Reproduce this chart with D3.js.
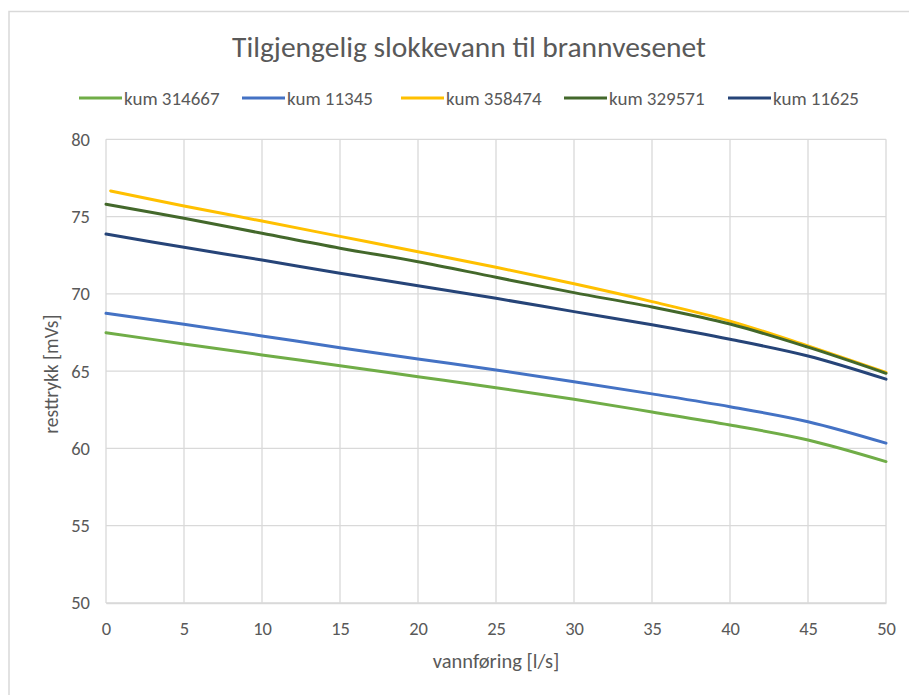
<!DOCTYPE html>
<html>
<head>
<meta charset="utf-8">
<script src="https://cdn.jsdelivr.net/npm/d3@7"></script>
<style>
  html, body { margin: 0; padding: 0; background: #ffffff; }
  svg { display: block; }
  text { font-family: Carlito, Lato, "Open Sans", sans-serif; fill: #595959; }
</style>
</head>
<body>
<svg id="chart" width="909" height="695"></svg>
<script>
// ---- data ----
const chartTitle = "Tilgjengelig slokkevann til brannvesenet";
const xTitle = "vannføring [l/s]";
const yTitle = "resttrykk [mVs]";
const seriesNames = ["kum 314667", "kum 11345", "kum 358474", "kum 329571", "kum 11625"];
const seriesColors = ["#70AD47", "#4472C4", "#FFC000", "#43682B", "#264478"];
const flow = [0, 5, 10, 15, 20, 25, 30, 35, 40, 45, 50];
const flowKum358474 = [0.3, 5, 10, 15, 20, 25, 30, 35, 40, 45, 50];
const kum314667 = [67.49, 66.76, 66.05, 65.35, 64.64, 63.93, 63.18, 62.36, 61.52, 60.55, 59.15];
const kum11345  = [68.74, 68.03, 67.28, 66.52, 65.79, 65.08, 64.32, 63.53, 62.70, 61.73, 60.34];
const kum358474 = [76.66, 75.69, 74.71, 73.72, 72.73, 71.72, 70.65, 69.50, 68.24, 66.63, 64.92];
const kum329571 = [75.80, 74.89, 73.92, 72.95, 72.08, 71.07, 70.08, 69.15, 68.05, 66.55, 64.86];
const kum11625  = [73.87, 73.01, 72.19, 71.33, 70.53, 69.71, 68.85, 68.00, 67.06, 65.98, 64.48];
const xTicks = [0, 5, 10, 15, 20, 25, 30, 35, 40, 45, 50];
const yTicks = [50, 55, 60, 65, 70, 75, 80];

const seriesX = [flow, flow, flowKum358474, flow, flow];
const seriesY = [kum314667, kum11345, kum358474, kum329571, kum11625];

// ---- layout ----
const svg = d3.select("#chart");
const plot = { left: 106, right: 886, top: 139.3, bottom: 603 };
const x = d3.scaleLinear().domain([0, 50]).range([plot.left, plot.right]);
const y = d3.scaleLinear().domain([50, 80]).range([plot.bottom, plot.top]);

// chart frame
svg.append("rect")
  .attr("x", 9).attr("y", 11.5).attr("width", 1000).attr("height", 800)
  .attr("fill", "none").attr("stroke", "#d9d9d9").attr("stroke-width", 1.5);

// title
svg.append("text")
  .attr("x", 469).attr("y", 57)
  .attr("text-anchor", "middle")
  .style("font-size", "29.5px")
  .style("font-weight", "300")
  .text(chartTitle);

// gridlines
const grid = svg.append("g");
grid.selectAll("line.h").data(yTicks).join("line")
  .attr("x1", plot.left).attr("x2", plot.right)
  .attr("y1", d => y(d)).attr("y2", d => y(d))
  .attr("stroke", "#d9d9d9").attr("stroke-width", 1.3);
grid.selectAll("line.v").data(xTicks).join("line")
  .attr("y1", plot.top).attr("y2", plot.bottom)
  .attr("x1", d => x(d)).attr("x2", d => x(d))
  .attr("stroke", "#d9d9d9").attr("stroke-width", 1.3);

// axes (labels only)
const xAxis = d3.axisBottom(x).tickValues(xTicks).tickSize(0).tickPadding(19);
const gx = svg.append("g").attr("transform", `translate(0,${plot.bottom})`).call(xAxis);
gx.select(".domain").attr("stroke", "#d9d9d9").attr("stroke-width", 1.3);
gx.selectAll("text").style("font-size", "18.5px").style("fill", "#595959")
  .style("font-family", "Carlito, Lato, sans-serif");

const yAxis = d3.axisLeft(y).tickValues(yTicks).tickSize(0).tickPadding(16);
const gy = svg.append("g").attr("transform", `translate(${plot.left},0)`).call(yAxis);
gy.select(".domain").remove();
gy.selectAll("text").style("font-size", "18.5px").style("fill", "#595959")
  .style("font-family", "Carlito, Lato, sans-serif");

// axis titles
svg.append("text")
  .attr("x", 496).attr("y", 668)
  .attr("text-anchor", "middle")
  .style("font-size", "20.5px")
  .text(xTitle);
svg.append("text")
  .attr("transform", `translate(58,${(plot.top + plot.bottom) / 2 + 3}) rotate(-90)`)
  .attr("text-anchor", "middle")
  .style("font-size", "19.5px")
  .text(yTitle);

// lines
const line = d3.line()
  .x(d => x(d[0]))
  .y(d => y(d[1]))
  .curve(d3.curveCatmullRom.alpha(0.5));

const lineOrder = [0, 1, 2, 3, 4];
svg.append("g").selectAll("path").data(lineOrder).join("path")
  .attr("d", i => line(seriesX[i].map((v, k) => [v, seriesY[i][k]])))
  .attr("fill", "none")
  .attr("stroke", i => seriesColors[i])
  .attr("stroke-width", 3)
  .attr("stroke-linecap", "round")
  .attr("stroke-linejoin", "round");

// legend
const legendX = [79, 242, 401, 564, 728];
const legendY = 98;
const lg = svg.append("g");
const items = lg.selectAll("g").data(seriesNames).join("g")
  .attr("transform", (d, i) => `translate(${legendX[i]},${legendY})`);
items.append("line")
  .attr("x1", 0).attr("x2", 43).attr("y1", 0).attr("y2", 0)
  .attr("stroke", (d, i) => seriesColors[i]).attr("stroke-width", 3);
items.append("text")
  .attr("x", 45).attr("y", 6.5)
  .style("font-size", "19px")
  .text(d => d);
</script>
</body>
</html>
